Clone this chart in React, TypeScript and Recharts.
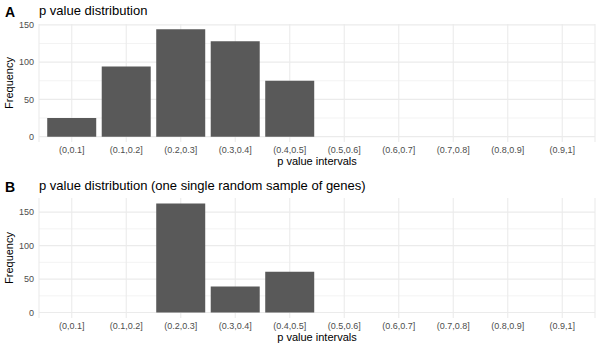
import React from 'react';
import { BarChart, Bar, XAxis, YAxis, CartesianGrid, Label } from 'recharts';

const intervals = [
  '(0,0.1]', '(0.1,0.2]', '(0.2,0.3]', '(0.3,0.4]', '(0.4,0.5]',
  '(0.5,0.6]', '(0.6,0.7]', '(0.7,0.8]', '(0.8,0.9]', '(0.9,1]',
];
const freqAll = [25, 94, 144, 128, 75, 0, 0, 0, 0, 0];
const freqSample = [0, 0, 163, 39, 61, 0, 0, 0, 0, 0];
const yTicks = [0, 50, 100, 150];
const yMinor = [25, 75, 125];

const font = '"Liberation Sans", Arial, Helvetica, sans-serif';
const gridColor = '#EBEBEB';

interface PanelProps {
  tag: string;
  title: string;
  values: number[];
  top: number;
  marginTop: number;
  marginBottom: number;
}

function Panel({ tag, title, values, top, marginTop, marginBottom }: PanelProps) {
  const data = intervals.map((name, i) => ({ name, value: values[i] }));
  const max = Math.max(...values);
  const tickStyle = { fill: '#4D4D4D', fontSize: 9, fontFamily: font };

  return (
    <div style={{ position: 'absolute', left: 0, top, width: 600, height: 175 }}>
      <div style={{ position: 'absolute', left: 5, top: 4, fontFamily: font, fontWeight: 'bold', fontSize: 14, color: '#000' }}>
        {tag}
      </div>
      <div style={{ position: 'absolute', left: 39, top: 3, fontFamily: font, fontSize: 13, color: '#000' }}>
        {title}
      </div>
      <BarChart
        width={600}
        height={175}
        data={data}
        margin={{ top: marginTop, right: 5, left: 0, bottom: marginBottom }}
        barCategoryGap="5%"
      >
        <CartesianGrid
          vertical={false}
          horizontalValues={yMinor}
          stroke={gridColor}
          strokeWidth={0.6}
        />
        <CartesianGrid horizontalValues={yTicks} stroke={gridColor} strokeWidth={1.1} />
        <XAxis
          dataKey="name"
          height={20}
          padding={{ left: 5.5, right: 5.5 }}
          axisLine={false}
          tickLine={false}
          tickSize={3}
          tickMargin={2}
          interval={0}
          tick={tickStyle}
        >
          <Label
            value="p value intervals"
            position="insideBottom"
            offset={-3}
            style={{ fill: '#000', fontSize: 11, fontFamily: font }}
          />
        </XAxis>
        <YAxis
          width={39}
          type="number"
          domain={[-0.05 * max, 1.05 * max]}
          ticks={yTicks}
          axisLine={false}
          tickLine={false}
          tickSize={3}
          tickMargin={2}
          tick={tickStyle}
        >
          <Label
            value="Frequency"
            angle={-90}
            position="insideLeft"
            offset={9}
            style={{ fill: '#000', fontSize: 11, fontFamily: font, textAnchor: 'middle' }}
          />
        </YAxis>
        <Bar dataKey="value" fill="#595959" isAnimationActive={false} />
      </BarChart>
    </div>
  );
}

export default function App() {
  return (
    <div style={{ position: 'absolute', left: 0, top: 0, width: 600, height: 350, background: '#fff' }}>
      <Panel tag="A" title="p value distribution" values={freqAll} top={0} marginTop={24} marginBottom={13} />
      <Panel
        tag="B"
        title="p value distribution (one single random sample of genes)"
        values={freqSample}
        top={175}
        marginTop={23}
        marginBottom={12}
      />
    </div>
  );
}
